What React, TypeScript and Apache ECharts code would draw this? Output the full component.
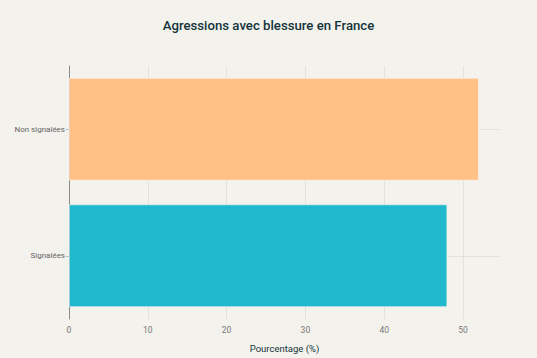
import React, { useEffect, useRef } from "react";
import * as echarts from "echarts";

const categories = ["Signalées", "Non signalées"];
const values = [48, 52];
const barColors = ["#1FB8CD", "#FFC185"];
const xTicks = [0, 10, 20, 30, 40, 50];
const gridTicks = [10, 20, 30, 40, 50];
const titleText = "Agressions avec blessure en France";
const xAxisTitle = "Pourcentage (%)";

export default function App() {
  const ref = useRef<HTMLDivElement>(null);
  useEffect(() => {
    if (!ref.current) return;
    const chart = echarts.init(ref.current, null, { renderer: "svg" });
    const font = "Roboto, Liberation Sans, Arial, sans-serif";
    const gridLine = { color: "#E2E2DC", width: 1, type: "solid" };
    chart.setOption({
      animation: false,
      backgroundColor: "#F3F2EC",
      textStyle: { fontFamily: font },
      title: {
        text: titleText,
        left: "center",
        top: 14,
        textStyle: { fontSize: 13.2, fontWeight: 500, color: "#13343B", fontFamily: font },
      },
      grid: { left: 69, right: 37, top: 66, bottom: 36, containLabel: false },
      xAxis: {
        type: "value",
        min: 0,
        max: 54.7,
        interval: 10,
        name: xAxisTitle,
        nameLocation: "middle",
        nameGap: 24,
        nameTextStyle: { fontSize: 9.5, color: "#13343B", fontFamily: font },
        axisLine: { show: false },
        axisTick: { show: false },
        axisLabel: {
          fontSize: 8.5,
          color: "#777777",
          margin: 6,
          showMaxLabel: false,
          formatter: (v: number) => (xTicks.includes(v) ? String(v) : ""),
        },
        splitLine: { show: false },
      },
      yAxis: {
        type: "category",
        data: categories,
        axisLine: { show: true, lineStyle: { color: "#8A8A8A", width: 1 } },
        axisTick: { show: true, alignWithLabel: true, length: 3, lineStyle: { color: "#BBBBBB" } },
        axisLabel: { fontSize: 8, color: "#666666", margin: 4 },
        splitLine: { show: false },
      },
      series: [
        {
          type: "bar",
          z: 3,
          barCategoryGap: "19%",
          data: values.map((v, i) => ({ value: v, itemStyle: { color: barColors[i] } })),
          itemStyle: { borderColor: "#F7F7F2", borderWidth: 0.6 },
          markLine: {
            z: 1,
            silent: true,
            symbol: "none",
            label: { show: false },
            lineStyle: gridLine,
            data: [
              ...categories.map((c) => ({ yAxis: c })),
              ...gridTicks.map((t) => ({ xAxis: t })),
            ],
          },
        },
      ],
    });
    return () => chart.dispose();
  }, []);
  return <div ref={ref} style={{ width: 537, height: 358, position: "fixed", left: 0, top: 0 }} />;
}
